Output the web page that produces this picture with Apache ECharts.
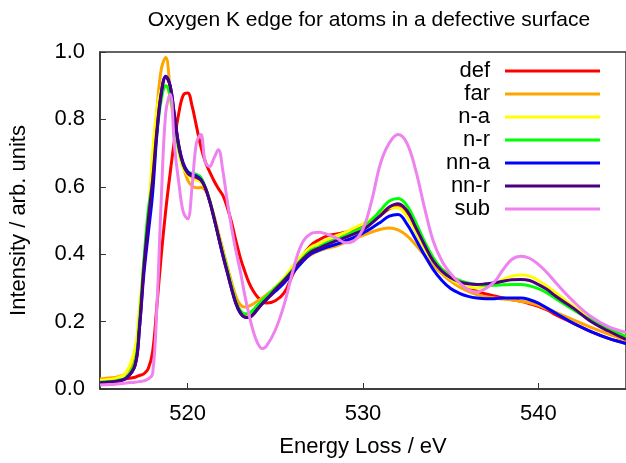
<!DOCTYPE html>
<html>
<head>
<meta charset="utf-8">
<script src="https://cdn.jsdelivr.net/npm/echarts@6/dist/echarts.min.js"></script>
<style>
  html, body { margin: 0; padding: 0; background: #fff; }
  #chart { width: 626px; height: 463px; }
</style>
</head>
<body>
<div id="chart"></div>
<script>
// energy grid (eV)
const energy = [
    515, 515.5, 516, 516.5,
    517, 517.25, 517.5, 517.75,
    518, 518.25, 518.5, 518.75,
    519, 519.25, 519.5, 519.75,
    520, 520.25, 520.5, 520.75,
    521, 521.25, 521.5, 521.75,
    522, 522.25, 522.5, 522.75,
    523, 523.25, 523.5, 523.75,
    524, 524.25, 524.5,
    525, 525.5, 526, 526.5,
    527, 527.5, 528, 528.5,
    529, 529.5, 530, 530.5,
    531, 531.5, 532, 532.5,
    533, 533.5, 534, 534.5,
    535, 535.5, 536, 536.5,
    537, 537.5, 538, 538.5,
    539, 539.5, 540, 540.5,
    541, 542, 543, 544, 545
];

const defValues = [
    0.02, 0.022, 0.025, 0.03,
    0.035, 0.04, 0.045, 0.06,
    0.11, 0.25, 0.4, 0.53,
    0.64, 0.74, 0.82, 0.872,
    0.878, 0.84, 0.78, 0.72,
    0.675, 0.645, 0.618, 0.595,
    0.575, 0.54, 0.495, 0.44,
    0.39, 0.35, 0.315, 0.29,
    0.272, 0.26, 0.255,
    0.262, 0.285, 0.34, 0.39,
    0.425, 0.443, 0.455, 0.46,
    0.465, 0.473, 0.485, 0.5,
    0.515, 0.535, 0.542, 0.52,
    0.47, 0.42, 0.38, 0.355,
    0.335, 0.315, 0.3, 0.29,
    0.282, 0.276, 0.27, 0.265,
    0.26, 0.253, 0.245, 0.235,
    0.22, 0.195, 0.17, 0.15, 0.135
];

const farValues = [
    0.03, 0.033, 0.036, 0.048,
    0.1, 0.22, 0.36, 0.5,
    0.66, 0.83, 0.95, 0.984,
    0.89, 0.79, 0.72, 0.66,
    0.62, 0.603, 0.597, 0.598,
    0.59, 0.56, 0.515, 0.465,
    0.415, 0.365, 0.318, 0.275,
    0.25, 0.243, 0.246, 0.253,
    0.262, 0.27, 0.28,
    0.3, 0.325, 0.355, 0.38,
    0.398, 0.41, 0.418, 0.425,
    0.435, 0.445, 0.456, 0.466,
    0.474, 0.478, 0.472, 0.455,
    0.428, 0.397, 0.367, 0.342,
    0.32, 0.303, 0.29, 0.28,
    0.274, 0.27, 0.267, 0.264,
    0.26, 0.256, 0.248, 0.238,
    0.227, 0.205, 0.183, 0.163, 0.145
];

const naValues = [
    0.025, 0.028, 0.033, 0.05,
    0.12, 0.24, 0.37, 0.5,
    0.7, 0.83, 0.89, 0.9,
    0.86, 0.78, 0.7, 0.655,
    0.635, 0.625, 0.62, 0.615,
    0.598, 0.562, 0.512, 0.458,
    0.408, 0.358, 0.308, 0.258,
    0.228, 0.215, 0.217, 0.23,
    0.248, 0.263, 0.276,
    0.303, 0.33, 0.365, 0.395,
    0.42, 0.432, 0.445, 0.455,
    0.465, 0.478, 0.49, 0.505,
    0.522, 0.537, 0.538, 0.512,
    0.467, 0.418, 0.378, 0.348,
    0.327, 0.312, 0.303, 0.3,
    0.303, 0.312, 0.325, 0.335,
    0.338, 0.335, 0.322, 0.305,
    0.285, 0.245, 0.21, 0.18, 0.155
];

const nrValues = [
    0.02, 0.022, 0.025, 0.035,
    0.08, 0.2, 0.38, 0.53,
    0.62, 0.76, 0.86, 0.9,
    0.87, 0.79, 0.71, 0.665,
    0.645, 0.64, 0.637, 0.628,
    0.6, 0.56, 0.51, 0.455,
    0.405, 0.355, 0.305, 0.26,
    0.233, 0.223, 0.225, 0.235,
    0.25, 0.263, 0.276,
    0.3, 0.325, 0.355, 0.385,
    0.41, 0.422, 0.435, 0.445,
    0.455, 0.468, 0.48, 0.502,
    0.53, 0.558, 0.565, 0.545,
    0.495, 0.438, 0.39, 0.355,
    0.335, 0.322, 0.315, 0.31,
    0.308, 0.308, 0.309, 0.31,
    0.31, 0.306, 0.298, 0.285,
    0.268, 0.235, 0.205, 0.18, 0.155
];

const nnaValues = [
    0.018, 0.02, 0.023, 0.032,
    0.07, 0.18, 0.34, 0.46,
    0.58, 0.76, 0.88, 0.928,
    0.9, 0.81, 0.72, 0.67,
    0.645, 0.636, 0.632, 0.622,
    0.598, 0.558, 0.508, 0.453,
    0.398, 0.348, 0.298, 0.253,
    0.225, 0.213, 0.212, 0.222,
    0.238, 0.253, 0.266,
    0.29, 0.315, 0.345, 0.375,
    0.4, 0.412, 0.422, 0.43,
    0.44, 0.45, 0.463, 0.478,
    0.495, 0.513, 0.518, 0.49,
    0.445, 0.398, 0.355, 0.322,
    0.298, 0.284, 0.275, 0.27,
    0.268, 0.268, 0.27, 0.27,
    0.27, 0.265, 0.255, 0.24,
    0.225, 0.195, 0.17, 0.15, 0.135
];

const nnrValues = [
    0.018, 0.02, 0.023, 0.032,
    0.07, 0.18, 0.36, 0.5,
    0.62, 0.77, 0.88, 0.925,
    0.9, 0.81, 0.72, 0.665,
    0.64, 0.632, 0.628, 0.62,
    0.598, 0.558, 0.508, 0.453,
    0.398, 0.348, 0.298, 0.255,
    0.227, 0.214, 0.213, 0.222,
    0.238, 0.253, 0.266,
    0.295, 0.322, 0.352, 0.382,
    0.405, 0.418, 0.43, 0.44,
    0.45, 0.46, 0.472, 0.492,
    0.515, 0.54, 0.55, 0.53,
    0.48, 0.428, 0.38, 0.35,
    0.33, 0.318, 0.312, 0.31,
    0.312, 0.315, 0.32, 0.324,
    0.325, 0.322, 0.31, 0.295,
    0.275, 0.24, 0.2, 0.172, 0.147
];

const subValues = [
    0.012, 0.013, 0.015, 0.018,
    0.02, 0.022, 0.024, 0.03,
    0.045, 0.25, 0.57, 0.82,
    0.875, 0.72, 0.61, 0.525,
    0.505, 0.6, 0.73, 0.755,
    0.675, 0.66, 0.685, 0.71,
    0.65, 0.56, 0.48, 0.41,
    0.35, 0.28, 0.22, 0.17,
    0.135, 0.12, 0.128,
    0.175, 0.25, 0.35, 0.43,
    0.46, 0.465, 0.458, 0.448,
    0.434, 0.44, 0.475, 0.56,
    0.67, 0.73, 0.755, 0.73,
    0.65, 0.54, 0.44, 0.38,
    0.342, 0.315, 0.295, 0.288,
    0.298, 0.318, 0.355, 0.385,
    0.394, 0.388, 0.37, 0.345,
    0.315, 0.26, 0.215, 0.185, 0.168
];

const seriesNames = ['def', 'far', 'n-a', 'n-r', 'nn-a', 'nn-r', 'sub'];
const seriesValues = [defValues, farValues, naValues, nrValues, nnaValues, nnrValues, subValues];
const seriesColors = ['#ff0000', '#ffa500', '#ffff00', '#00ff00', '#0000ff', '#4b0082', '#ee82ee'];
const xTicks = [520, 530, 540];

const font = 'Liberation Sans, Arial, Helvetica, sans-serif';
const chart = echarts.init(document.getElementById('chart'));

const series = seriesNames.map((name, i) => ({
    name: name,
    type: 'line',
    data: energy.map((e, j) => [e, seriesValues[i][j]]),
    showSymbol: false,
    smooth: 0.4,
    clip: true,
    lineStyle: { color: seriesColors[i], width: 3 },
    itemStyle: { color: seriesColors[i] }
}));

chart.setOption({
    animation: false,
    backgroundColor: '#fff',
    title: {
        text: 'Oxygen K edge for atoms in a defective surface',
        left: 364,
        textAlign: 'center',
        top: 5,
        textStyle: { fontFamily: font, fontSize: 21, fontWeight: 'normal', color: '#000' }
    },
    legend: {
        orient: 'vertical',
        align: 'right',
        right: 21,
        top: 55,
        icon: 'rect',
        itemWidth: 95,
        itemHeight: 3,
        itemGap: 1,
        textStyle: { fontFamily: font, fontSize: 22, lineHeight: 22, color: '#000', padding: [0, 10, 0, 0] },
        data: seriesNames
    },
    grid: {
        left: 99,
        top: 52,
        width: 530,
        height: 341,
        show: true,
        borderColor: '#333',
        borderWidth: 1.5
    },
    xAxis: {
        type: 'value',
        min: 515,
        max: 545,
        name: 'Energy Loss / eV',
        nameLocation: 'middle',
        nameGap: 47,
        nameTextStyle: { fontFamily: font, fontSize: 22, color: '#000' },
        axisLine: { show: true, lineStyle: { color: '#333', width: 1.5 } },
        axisTick: { show: true, inside: true, length: 6, customValues: xTicks, lineStyle: { color: '#333' } },
        axisLabel: { fontFamily: font, fontSize: 22, color: '#000', margin: 14, customValues: xTicks },
        splitLine: { show: false }
    },
    yAxis: {
        type: 'value',
        min: 0,
        max: 1,
        interval: 0.2,
        name: 'Intensity / arb. units',
        nameLocation: 'middle',
        nameGap: 70,
        nameTextStyle: { fontFamily: font, fontSize: 22, color: '#000' },
        axisLine: { show: true, lineStyle: { color: '#333', width: 1.5 } },
        axisTick: { show: true, inside: true, length: 6, lineStyle: { color: '#333' } },
        axisLabel: {
            fontFamily: font, fontSize: 22, color: '#000', margin: 15,
            formatter: v => v.toFixed(1)
        },
        splitLine: { show: false }
    },
    series: series
});
</script>
</body>
</html>
